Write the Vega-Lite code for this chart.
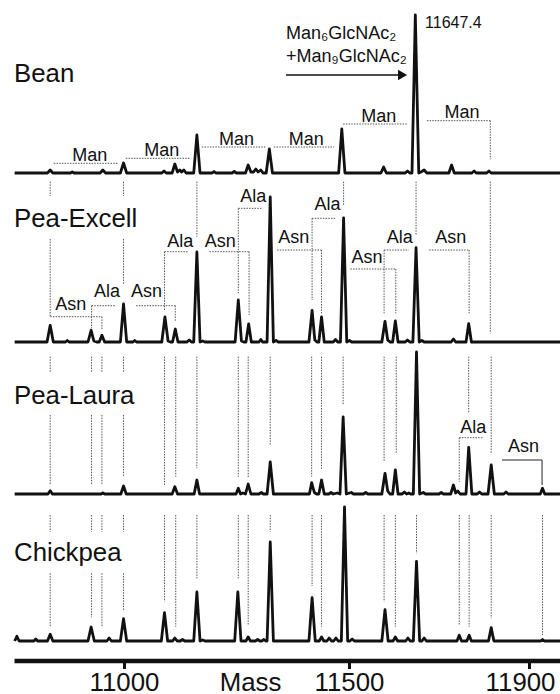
{
"$schema": "https://vega.github.io/schema/vega-lite/v6.json",
"padding": {"left": 13, "top": 0, "right": 0, "bottom": 0},
"bounds": "flush",
"spacing": 0,
"background": "white",
"config": {"view": {"stroke": null}, "font": "Liberation Sans", "text": {"font": "Liberation Sans", "color": "#111"}},
"resolve": {"scale": {"x": "independent", "y": "independent"}},
"datasets": {
"spec": [
{"s":"Bean","m":10757,"y":0},{"s":"Bean","m":10830,"y":0},{"s":"Bean","m":10836,"y":3},{"s":"Bean","m":10842,"y":0},{"s":"Bean","m":10881,"y":0},{"s":"Bean","m":10885,"y":1.2},{"s":"Bean","m":10889,"y":0},{"s":"Bean","m":10947,"y":0},{"s":"Bean","m":10953,"y":3},{"s":"Bean","m":10959,"y":0},{"s":"Bean","m":10992,"y":0},{"s":"Bean","m":10999,"y":10},{"s":"Bean","m":11006,"y":0},{"s":"Bean","m":11084,"y":0},{"s":"Bean","m":11089,"y":2},{"s":"Bean","m":11094,"y":0},{"s":"Bean","m":11107,"y":0},{"s":"Bean","m":11113,"y":9},{"s":"Bean","m":11119,"y":1},{"s":"Bean","m":11124,"y":3},{"s":"Bean","m":11128,"y":1},{"s":"Bean","m":11133,"y":3},{"s":"Bean","m":11138,"y":0},{"s":"Bean","m":11155,"y":0},{"s":"Bean","m":11162,"y":38},{"s":"Bean","m":11169,"y":0},{"s":"Bean","m":11196,"y":0},{"s":"Bean","m":11200,"y":1.5},{"s":"Bean","m":11204,"y":0},{"s":"Bean","m":11240,"y":0},{"s":"Bean","m":11245,"y":1.5},{"s":"Bean","m":11250,"y":0},{"s":"Bean","m":11270,"y":0},{"s":"Bean","m":11276,"y":8},{"s":"Bean","m":11282,"y":1},{"s":"Bean","m":11288,"y":1},{"s":"Bean","m":11293,"y":4},{"s":"Bean","m":11298,"y":1},{"s":"Bean","m":11304,"y":3},{"s":"Bean","m":11309,"y":0},{"s":"Bean","m":11316,"y":0},{"s":"Bean","m":11323,"y":24},{"s":"Bean","m":11330,"y":0},{"s":"Bean","m":11477,"y":0},{"s":"Bean","m":11484,"y":44},{"s":"Bean","m":11491,"y":0},{"s":"Bean","m":11571,"y":0},{"s":"Bean","m":11577,"y":6},{"s":"Bean","m":11583,"y":0},{"s":"Bean","m":11625,"y":0},{"s":"Bean","m":11630,"y":2},{"s":"Bean","m":11635,"y":0},{"s":"Bean","m":11640,"y":0},{"s":"Bean","m":11647.4,"y":158},{"s":"Bean","m":11655,"y":0},{"s":"Bean","m":11660,"y":1},{"s":"Bean","m":11667,"y":3},{"s":"Bean","m":11673,"y":0},{"s":"Bean","m":11722,"y":0},{"s":"Bean","m":11728,"y":8},{"s":"Bean","m":11734,"y":0},{"s":"Bean","m":11773,"y":0},{"s":"Bean","m":11778,"y":2},{"s":"Bean","m":11783,"y":0},{"s":"Bean","m":11806,"y":0},{"s":"Bean","m":11811,"y":2},{"s":"Bean","m":11816,"y":0},{"s":"Bean","m":11971,"y":0},
{"s":"Pea-Excell","m":10757,"y":0},{"s":"Pea-Excell","m":10829,"y":0},{"s":"Pea-Excell","m":10836,"y":16.7},{"s":"Pea-Excell","m":10843,"y":0},{"s":"Pea-Excell","m":10870,"y":0},{"s":"Pea-Excell","m":10874,"y":1.5},{"s":"Pea-Excell","m":10878,"y":0},{"s":"Pea-Excell","m":10920,"y":0},{"s":"Pea-Excell","m":10927,"y":11.7},{"s":"Pea-Excell","m":10933,"y":1},{"s":"Pea-Excell","m":10939,"y":0},{"s":"Pea-Excell","m":10945,"y":0},{"s":"Pea-Excell","m":10951,"y":6.7},{"s":"Pea-Excell","m":10957,"y":0},{"s":"Pea-Excell","m":10992,"y":0},{"s":"Pea-Excell","m":10999,"y":38},{"s":"Pea-Excell","m":11006,"y":0},{"s":"Pea-Excell","m":11020,"y":0},{"s":"Pea-Excell","m":11024,"y":1.5},{"s":"Pea-Excell","m":11028,"y":0},{"s":"Pea-Excell","m":11084,"y":0},{"s":"Pea-Excell","m":11091,"y":25},{"s":"Pea-Excell","m":11098,"y":1},{"s":"Pea-Excell","m":11103,"y":0},{"s":"Pea-Excell","m":11108,"y":0},{"s":"Pea-Excell","m":11114,"y":13},{"s":"Pea-Excell","m":11120,"y":0},{"s":"Pea-Excell","m":11140,"y":0},{"s":"Pea-Excell","m":11145,"y":2},{"s":"Pea-Excell","m":11150,"y":0},{"s":"Pea-Excell","m":11155,"y":0},{"s":"Pea-Excell","m":11162,"y":90},{"s":"Pea-Excell","m":11169,"y":0},{"s":"Pea-Excell","m":11175,"y":1},{"s":"Pea-Excell","m":11180,"y":0},{"s":"Pea-Excell","m":11247,"y":0},{"s":"Pea-Excell","m":11254,"y":42},{"s":"Pea-Excell","m":11261,"y":1},{"s":"Pea-Excell","m":11266,"y":0},{"s":"Pea-Excell","m":11271,"y":0},{"s":"Pea-Excell","m":11277,"y":18},{"s":"Pea-Excell","m":11283,"y":0},{"s":"Pea-Excell","m":11300,"y":0},{"s":"Pea-Excell","m":11304,"y":2.5},{"s":"Pea-Excell","m":11308,"y":0},{"s":"Pea-Excell","m":11318,"y":0},{"s":"Pea-Excell","m":11325,"y":145},{"s":"Pea-Excell","m":11332,"y":0},{"s":"Pea-Excell","m":11338,"y":1.5},{"s":"Pea-Excell","m":11343,"y":0},{"s":"Pea-Excell","m":11411,"y":0},{"s":"Pea-Excell","m":11418,"y":31.7},{"s":"Pea-Excell","m":11424,"y":2},{"s":"Pea-Excell","m":11429,"y":0},{"s":"Pea-Excell","m":11433,"y":0},{"s":"Pea-Excell","m":11439,"y":25},{"s":"Pea-Excell","m":11445,"y":0},{"s":"Pea-Excell","m":11465,"y":0},{"s":"Pea-Excell","m":11470,"y":2.5},{"s":"Pea-Excell","m":11475,"y":0},{"s":"Pea-Excell","m":11481,"y":0},{"s":"Pea-Excell","m":11488,"y":124},{"s":"Pea-Excell","m":11495,"y":0},{"s":"Pea-Excell","m":11501,"y":1.5},{"s":"Pea-Excell","m":11506,"y":0},{"s":"Pea-Excell","m":11573,"y":0},{"s":"Pea-Excell","m":11580,"y":20.7},{"s":"Pea-Excell","m":11586,"y":2},{"s":"Pea-Excell","m":11591,"y":0},{"s":"Pea-Excell","m":11597,"y":0},{"s":"Pea-Excell","m":11603,"y":21},{"s":"Pea-Excell","m":11609,"y":0},{"s":"Pea-Excell","m":11625,"y":0},{"s":"Pea-Excell","m":11630,"y":2},{"s":"Pea-Excell","m":11635,"y":0},{"s":"Pea-Excell","m":11642,"y":0},{"s":"Pea-Excell","m":11649,"y":94.4},{"s":"Pea-Excell","m":11656,"y":0},{"s":"Pea-Excell","m":11662,"y":1.5},{"s":"Pea-Excell","m":11667,"y":0},{"s":"Pea-Excell","m":11727,"y":0},{"s":"Pea-Excell","m":11732,"y":3},{"s":"Pea-Excell","m":11737,"y":0},{"s":"Pea-Excell","m":11760,"y":0},{"s":"Pea-Excell","m":11766,"y":18.4},{"s":"Pea-Excell","m":11772,"y":0},{"s":"Pea-Excell","m":11971,"y":0},
{"s":"Pea-Laura","m":10757,"y":0},{"s":"Pea-Laura","m":10831,"y":0},{"s":"Pea-Laura","m":10836,"y":3.3},{"s":"Pea-Laura","m":10841,"y":0},{"s":"Pea-Laura","m":10949,"y":0},{"s":"Pea-Laura","m":10953,"y":1.2},{"s":"Pea-Laura","m":10957,"y":0},{"s":"Pea-Laura","m":10993,"y":0},{"s":"Pea-Laura","m":10999,"y":8},{"s":"Pea-Laura","m":11005,"y":0},{"s":"Pea-Laura","m":11107,"y":0},{"s":"Pea-Laura","m":11113,"y":7.3},{"s":"Pea-Laura","m":11119,"y":0},{"s":"Pea-Laura","m":11156,"y":0},{"s":"Pea-Laura","m":11162,"y":14},{"s":"Pea-Laura","m":11168,"y":0},{"s":"Pea-Laura","m":11249,"y":0},{"s":"Pea-Laura","m":11254,"y":5.7},{"s":"Pea-Laura","m":11259,"y":0},{"s":"Pea-Laura","m":11264,"y":1},{"s":"Pea-Laura","m":11270,"y":0},{"s":"Pea-Laura","m":11276,"y":10},{"s":"Pea-Laura","m":11282,"y":0},{"s":"Pea-Laura","m":11300,"y":0},{"s":"Pea-Laura","m":11305,"y":1.5},{"s":"Pea-Laura","m":11310,"y":0},{"s":"Pea-Laura","m":11318,"y":0},{"s":"Pea-Laura","m":11325,"y":32},{"s":"Pea-Laura","m":11332,"y":0},{"s":"Pea-Laura","m":11412,"y":0},{"s":"Pea-Laura","m":11417,"y":11.3},{"s":"Pea-Laura","m":11423,"y":1.5},{"s":"Pea-Laura","m":11428,"y":0},{"s":"Pea-Laura","m":11433,"y":0},{"s":"Pea-Laura","m":11439,"y":14},{"s":"Pea-Laura","m":11445,"y":0},{"s":"Pea-Laura","m":11455,"y":0},{"s":"Pea-Laura","m":11460,"y":1.5},{"s":"Pea-Laura","m":11465,"y":0},{"s":"Pea-Laura","m":11474,"y":1},{"s":"Pea-Laura","m":11480,"y":0},{"s":"Pea-Laura","m":11487,"y":77},{"s":"Pea-Laura","m":11494,"y":0},{"s":"Pea-Laura","m":11505,"y":1.5},{"s":"Pea-Laura","m":11510,"y":0},{"s":"Pea-Laura","m":11532,"y":0},{"s":"Pea-Laura","m":11537,"y":1.5},{"s":"Pea-Laura","m":11542,"y":0},{"s":"Pea-Laura","m":11573,"y":0},{"s":"Pea-Laura","m":11580,"y":20.7},{"s":"Pea-Laura","m":11586,"y":3},{"s":"Pea-Laura","m":11591,"y":0},{"s":"Pea-Laura","m":11597,"y":0},{"s":"Pea-Laura","m":11603,"y":24},{"s":"Pea-Laura","m":11609,"y":0},{"s":"Pea-Laura","m":11618,"y":0},{"s":"Pea-Laura","m":11623,"y":2},{"s":"Pea-Laura","m":11628,"y":0},{"s":"Pea-Laura","m":11633,"y":1},{"s":"Pea-Laura","m":11637,"y":0},{"s":"Pea-Laura","m":11643,"y":0},{"s":"Pea-Laura","m":11650,"y":142},{"s":"Pea-Laura","m":11657,"y":0},{"s":"Pea-Laura","m":11665,"y":1.5},{"s":"Pea-Laura","m":11670,"y":0},{"s":"Pea-Laura","m":11700,"y":0},{"s":"Pea-Laura","m":11705,"y":1.5},{"s":"Pea-Laura","m":11710,"y":0},{"s":"Pea-Laura","m":11726,"y":0},{"s":"Pea-Laura","m":11732,"y":9},{"s":"Pea-Laura","m":11737,"y":1},{"s":"Pea-Laura","m":11742,"y":3},{"s":"Pea-Laura","m":11747,"y":0},{"s":"Pea-Laura","m":11760,"y":0},{"s":"Pea-Laura","m":11766,"y":46.7},{"s":"Pea-Laura","m":11773,"y":0},{"s":"Pea-Laura","m":11785,"y":0},{"s":"Pea-Laura","m":11790,"y":2},{"s":"Pea-Laura","m":11795,"y":0},{"s":"Pea-Laura","m":11809,"y":0},{"s":"Pea-Laura","m":11816,"y":29},{"s":"Pea-Laura","m":11823,"y":0},{"s":"Pea-Laura","m":11844,"y":0},{"s":"Pea-Laura","m":11849,"y":2},{"s":"Pea-Laura","m":11854,"y":0},{"s":"Pea-Laura","m":11925,"y":0},{"s":"Pea-Laura","m":11930,"y":5.7},{"s":"Pea-Laura","m":11935,"y":0},{"s":"Pea-Laura","m":11971,"y":0},
{"s":"Chickpea","m":10757,"y":0},{"s":"Chickpea","m":10762,"y":4.7},{"s":"Chickpea","m":10767,"y":0},{"s":"Chickpea","m":10800,"y":0},{"s":"Chickpea","m":10804,"y":2},{"s":"Chickpea","m":10808,"y":0},{"s":"Chickpea","m":10830,"y":0},{"s":"Chickpea","m":10836,"y":6.7},{"s":"Chickpea","m":10842,"y":0},{"s":"Chickpea","m":10920,"y":0},{"s":"Chickpea","m":10927,"y":14},{"s":"Chickpea","m":10934,"y":0},{"s":"Chickpea","m":10962,"y":0},{"s":"Chickpea","m":10967,"y":3},{"s":"Chickpea","m":10972,"y":0},{"s":"Chickpea","m":10992,"y":0},{"s":"Chickpea","m":10999,"y":22.4},{"s":"Chickpea","m":11006,"y":0},{"s":"Chickpea","m":11083,"y":0},{"s":"Chickpea","m":11090,"y":28.4},{"s":"Chickpea","m":11097,"y":0},{"s":"Chickpea","m":11108,"y":0},{"s":"Chickpea","m":11113,"y":3},{"s":"Chickpea","m":11118,"y":0},{"s":"Chickpea","m":11125,"y":0},{"s":"Chickpea","m":11130,"y":1.5},{"s":"Chickpea","m":11135,"y":0},{"s":"Chickpea","m":11155,"y":0},{"s":"Chickpea","m":11162,"y":49},{"s":"Chickpea","m":11169,"y":0},{"s":"Chickpea","m":11175,"y":1},{"s":"Chickpea","m":11180,"y":0},{"s":"Chickpea","m":11246,"y":0},{"s":"Chickpea","m":11253,"y":49},{"s":"Chickpea","m":11260,"y":0},{"s":"Chickpea","m":11271,"y":0},{"s":"Chickpea","m":11276,"y":4},{"s":"Chickpea","m":11281,"y":0},{"s":"Chickpea","m":11292,"y":0},{"s":"Chickpea","m":11297,"y":1.5},{"s":"Chickpea","m":11302,"y":0},{"s":"Chickpea","m":11306,"y":0},{"s":"Chickpea","m":11311,"y":1.5},{"s":"Chickpea","m":11315,"y":0},{"s":"Chickpea","m":11318,"y":0},{"s":"Chickpea","m":11325,"y":99},{"s":"Chickpea","m":11332,"y":0},{"s":"Chickpea","m":11411,"y":0},{"s":"Chickpea","m":11418,"y":43.4},{"s":"Chickpea","m":11425,"y":0},{"s":"Chickpea","m":11434,"y":0},{"s":"Chickpea","m":11439,"y":4},{"s":"Chickpea","m":11444,"y":0},{"s":"Chickpea","m":11451,"y":0},{"s":"Chickpea","m":11456,"y":3},{"s":"Chickpea","m":11461,"y":0},{"s":"Chickpea","m":11466,"y":0},{"s":"Chickpea","m":11471,"y":3},{"s":"Chickpea","m":11476,"y":0},{"s":"Chickpea","m":11483,"y":0},{"s":"Chickpea","m":11490,"y":134},{"s":"Chickpea","m":11497,"y":0},{"s":"Chickpea","m":11502,"y":0},{"s":"Chickpea","m":11507,"y":2},{"s":"Chickpea","m":11512,"y":0},{"s":"Chickpea","m":11573,"y":0},{"s":"Chickpea","m":11580,"y":31.4},{"s":"Chickpea","m":11587,"y":0},{"s":"Chickpea","m":11598,"y":0},{"s":"Chickpea","m":11603,"y":4},{"s":"Chickpea","m":11608,"y":0},{"s":"Chickpea","m":11626,"y":0},{"s":"Chickpea","m":11631,"y":3},{"s":"Chickpea","m":11636,"y":0},{"s":"Chickpea","m":11643,"y":0},{"s":"Chickpea","m":11650,"y":79.7},{"s":"Chickpea","m":11657,"y":0},{"s":"Chickpea","m":11662,"y":0},{"s":"Chickpea","m":11667,"y":3},{"s":"Chickpea","m":11672,"y":0},{"s":"Chickpea","m":11740,"y":0},{"s":"Chickpea","m":11745,"y":5.7},{"s":"Chickpea","m":11750,"y":0},{"s":"Chickpea","m":11762,"y":0},{"s":"Chickpea","m":11767,"y":5.7},{"s":"Chickpea","m":11772,"y":0},{"s":"Chickpea","m":11810,"y":0},{"s":"Chickpea","m":11816,"y":13.4},{"s":"Chickpea","m":11822,"y":0},{"s":"Chickpea","m":11926,"y":0},{"s":"Chickpea","m":11930,"y":1.5},{"s":"Chickpea","m":11934,"y":0},{"s":"Chickpea","m":11971,"y":0}
],
"vr": [
{"s":"Bean","m":11814,"y":52.3,"ye":13.7,"t":"dot"},
{"s":"Pea-Excell","m":10836,"y":160.3,"ye":146,"t":"dot"},{"s":"Pea-Excell","m":10836,"y":103,"ye":25.3,"t":"dot"},{"s":"Pea-Excell","m":10999,"y":160.3,"ye":146,"t":"dot"},{"s":"Pea-Excell","m":10999,"y":103,"ye":57,"t":"dot"},{"s":"Pea-Excell","m":11162,"y":160.3,"ye":105.3,"t":"dot"},{"s":"Pea-Excell","m":11488,"y":160.3,"ye":137,"t":"dot"},{"s":"Pea-Excell","m":11649,"y":160.3,"ye":107,"t":"dot"},{"s":"Pea-Excell","m":11814,"y":160.3,"ye":8.7,"t":"dot"},{"s":"Pea-Excell","m":10951,"y":25.3,"ye":12,"t":"dot"},{"s":"Pea-Excell","m":10928,"y":36.3,"ye":13.7,"t":"dot"},{"s":"Pea-Excell","m":11114,"y":36.3,"ye":20.3,"t":"dot"},{"s":"Pea-Excell","m":11090,"y":90.3,"ye":32,"t":"dot"},{"s":"Pea-Excell","m":11278,"y":90.3,"ye":27,"t":"dot"},{"s":"Pea-Excell","m":11254,"y":133.7,"ye":48.7,"t":"dot"},{"s":"Pea-Excell","m":11439,"y":92,"ye":28.7,"t":"dot"},{"s":"Pea-Excell","m":11418,"y":123.7,"ye":42,"t":"dot"},{"s":"Pea-Excell","m":11604,"y":73,"ye":28.7,"t":"dot"},{"s":"Pea-Excell","m":11578,"y":92,"ye":28.7,"t":"dot"},{"s":"Pea-Excell","m":11767,"y":92,"ye":28.7,"t":"dot"},
{"s":"Pea-Laura","m":10836,"y":137.3,"ye":121,"t":"dot"},{"s":"Pea-Laura","m":10836,"y":79,"ye":9,"t":"dot"},{"s":"Pea-Laura","m":10928,"y":137.3,"ye":121,"t":"dot"},{"s":"Pea-Laura","m":10928,"y":79,"ye":9,"t":"dot"},{"s":"Pea-Laura","m":10951,"y":137.3,"ye":121,"t":"dot"},{"s":"Pea-Laura","m":10951,"y":79,"ye":9,"t":"dot"},{"s":"Pea-Laura","m":10999,"y":137.3,"ye":121,"t":"dot"},{"s":"Pea-Laura","m":10999,"y":79,"ye":17.3,"t":"dot"},{"s":"Pea-Laura","m":11090,"y":137.3,"ye":9,"t":"dot"},{"s":"Pea-Laura","m":11115,"y":137.3,"ye":17.3,"t":"dot"},{"s":"Pea-Laura","m":11162,"y":137.3,"ye":25.7,"t":"dot"},{"s":"Pea-Laura","m":11254,"y":137.3,"ye":17.3,"t":"dot"},{"s":"Pea-Laura","m":11276,"y":137.3,"ye":16.3,"t":"dot"},{"s":"Pea-Laura","m":11325,"y":137.3,"ye":49,"t":"dot"},{"s":"Pea-Laura","m":11417,"y":137.3,"ye":17.3,"t":"dot"},{"s":"Pea-Laura","m":11439,"y":137.3,"ye":24.7,"t":"dot"},{"s":"Pea-Laura","m":11487,"y":137.3,"ye":89,"t":"dot"},{"s":"Pea-Laura","m":11578,"y":137.3,"ye":32.3,"t":"dot"},{"s":"Pea-Laura","m":11605,"y":137.3,"ye":40.7,"t":"dot"},{"s":"Pea-Laura","m":11766,"y":137.3,"ye":81.3,"t":"dot"},{"s":"Pea-Laura","m":11816,"y":137.3,"ye":40.7,"t":"dot"},{"s":"Pea-Laura","m":11745,"y":56.3,"ye":12.3,"t":"dot"},{"s":"Pea-Laura","m":11929,"y":34,"ye":9,"t":"solid"},
{"s":"Chickpea","m":10836,"y":126,"ye":109.3,"t":"dot"},{"s":"Chickpea","m":10836,"y":67.7,"ye":14.3,"t":"dot"},{"s":"Chickpea","m":10928,"y":126,"ye":109.3,"t":"dot"},{"s":"Chickpea","m":10928,"y":67.7,"ye":23.7,"t":"dot"},{"s":"Chickpea","m":10951,"y":126,"ye":109.3,"t":"dot"},{"s":"Chickpea","m":10951,"y":67.7,"ye":14.3,"t":"dot"},{"s":"Chickpea","m":10999,"y":126,"ye":109.3,"t":"dot"},{"s":"Chickpea","m":10999,"y":67.7,"ye":31,"t":"dot"},{"s":"Chickpea","m":11090,"y":126,"ye":39.3,"t":"dot"},{"s":"Chickpea","m":11115,"y":126,"ye":14.3,"t":"dot"},{"s":"Chickpea","m":11162,"y":126,"ye":62.7,"t":"dot"},{"s":"Chickpea","m":11254,"y":126,"ye":62.7,"t":"dot"},{"s":"Chickpea","m":11276,"y":126,"ye":16,"t":"dot"},{"s":"Chickpea","m":11325,"y":126,"ye":109.3,"t":"dot"},{"s":"Chickpea","m":11418,"y":126,"ye":55,"t":"dot"},{"s":"Chickpea","m":11439,"y":126,"ye":14.3,"t":"dot"},{"s":"Chickpea","m":11578,"y":126,"ye":39.3,"t":"dot"},{"s":"Chickpea","m":11603,"y":126,"ye":14.3,"t":"dot"},{"s":"Chickpea","m":11650,"y":126,"ye":87.7,"t":"dot"},{"s":"Chickpea","m":11745,"y":126,"ye":16,"t":"dot"},{"s":"Chickpea","m":11767,"y":126,"ye":14.3,"t":"dot"},{"s":"Chickpea","m":11816,"y":126,"ye":22.7,"t":"dot"},{"s":"Chickpea","m":11930,"y":126,"ye":6,"t":"dot"}
],
"hr": [
{"s":"Bean","m":10844,"m2":10987,"y":9.7,"t":"dot"},{"s":"Bean","m":11004,"m2":11147,"y":14.7,"t":"dot"},{"s":"Bean","m":11173,"m2":11314,"y":26,"t":"dot"},{"s":"Bean","m":11333,"m2":11467,"y":26,"t":"dot"},{"s":"Bean","m":11487,"m2":11630,"y":49,"t":"dot"},{"s":"Bean","m":11673,"m2":11814,"y":52.3,"t":"dot"},{"s":"Bean","m":11360,"m2":11612,"y":98,"t":"solid"},
{"s":"Pea-Excell","m":10836,"m2":10951,"y":25.3,"t":"dot"},{"s":"Pea-Excell","m":10928,"m2":10982,"y":36.3,"t":"dot"},{"s":"Pea-Excell","m":11027,"m2":11114,"y":36.3,"t":"dot"},{"s":"Pea-Excell","m":11090,"m2":11142,"y":90.3,"t":"dot"},{"s":"Pea-Excell","m":11190,"m2":11278,"y":90.3,"t":"dot"},{"s":"Pea-Excell","m":11254,"m2":11307,"y":133.7,"t":"dot"},{"s":"Pea-Excell","m":11340,"m2":11439,"y":92,"t":"dot"},{"s":"Pea-Excell","m":11418,"m2":11471,"y":123.7,"t":"dot"},{"s":"Pea-Excell","m":11503,"m2":11604,"y":73,"t":"dot"},{"s":"Pea-Excell","m":11578,"m2":11633,"y":92,"t":"dot"},{"s":"Pea-Excell","m":11678,"m2":11767,"y":92,"t":"dot"},
{"s":"Pea-Laura","m":11745,"m2":11799,"y":56.3,"t":"dot"},{"s":"Pea-Laura","m":11840,"m2":11929,"y":34,"t":"solid"}
],
"lab": [
{"s":"Bean","m":10755.6,"y":91.3,"text":"Bean","k":"sample"},
{"s":"Bean","m":10924,"y":12.3,"text":"Man","k":"br"},{"s":"Bean","m":11084,"y":17.3,"text":"Man","k":"br"},{"s":"Bean","m":11250,"y":28,"text":"Man","k":"br"},{"s":"Bean","m":11405,"y":28,"text":"Man","k":"br"},{"s":"Bean","m":11566,"y":51.3,"text":"Man","k":"br"},{"s":"Bean","m":11751,"y":54.7,"text":"Man","k":"br"},
{"s":"Bean","m":11669,"y":144.7,"text":"11647.4","k":"peak"},
{"s":"Bean","m":11360,"y":133.7,"text":"Man₆GlcNAc₂","k":"gly"},{"s":"Bean","m":11360,"y":111.3,"text":"+Man₉GlcNAc₂","k":"gly"},
{"s":"Bean","m":11619,"y":98,"text":"","k":"head"},
{"s":"Pea-Excell","m":10755.6,"y":115.3,"text":"Pea-Excell","k":"sample"},
{"s":"Pea-Excell","m":10882,"y":32,"text":"Asn","k":"br"},{"s":"Pea-Excell","m":10962,"y":45.3,"text":"Ala","k":"br"},{"s":"Pea-Excell","m":11050,"y":45.3,"text":"Asn","k":"br"},{"s":"Pea-Excell","m":11125,"y":95.3,"text":"Ala","k":"br"},{"s":"Pea-Excell","m":11214,"y":95.3,"text":"Asn","k":"br"},{"s":"Pea-Excell","m":11287,"y":140.3,"text":"Ala","k":"br"},{"s":"Pea-Excell","m":11377,"y":98.7,"text":"Asn","k":"br"},{"s":"Pea-Excell","m":11452,"y":132,"text":"Ala","k":"br"},{"s":"Pea-Excell","m":11540,"y":78.7,"text":"Asn","k":"br"},{"s":"Pea-Excell","m":11613,"y":98.7,"text":"Ala","k":"br"},{"s":"Pea-Excell","m":11726,"y":98.7,"text":"Asn","k":"br"},
{"s":"Pea-Laura","m":10755.6,"y":90,"text":"Pea-Laura","k":"sample"},
{"s":"Pea-Laura","m":11776,"y":60.7,"text":"Ala","k":"br"},{"s":"Pea-Laura","m":11888,"y":42.3,"text":"Asn","k":"br"},
{"s":"Chickpea","m":10755.6,"y":80.3,"text":"Chickpea","k":"sample"}
]
},
"vconcat": [
{
"width": 547, "height": 173,
"encoding": {
"x": {"field": "m", "type": "quantitative", "scale": {"domain": [10755.6, 11971.1], "nice": false, "zero": false}, "axis": null},
"y": {"field": "y", "type": "quantitative", "scale": {"domain": [0, 173], "nice": false, "zero": false}, "axis": null}
},
"layer": [
{"data": {"name": "vr"}, "transform": [{"filter": "datum.s === 'Bean' && datum.t === 'dot'"}], "mark": {"type": "rule", "color": "#555", "strokeWidth": 1, "strokeDash": [1.5, 1.2]}, "encoding": {"y2": {"field": "ye"}}},
{"data": {"name": "hr"}, "transform": [{"filter": "datum.s === 'Bean' && datum.t === 'dot'"}], "mark": {"type": "rule", "color": "#555", "strokeWidth": 1, "strokeDash": [1.5, 1.2]}, "encoding": {"x2": {"field": "m2"}}},
{"data": {"name": "hr"}, "transform": [{"filter": "datum.s === 'Bean' && datum.t === 'solid'"}], "mark": {"type": "rule", "color": "#111", "strokeWidth": 1.6}, "encoding": {"x2": {"field": "m2"}}},
{"data": {"name": "spec"}, "transform": [{"filter": "datum.s === 'Bean'"}], "mark": {"type": "line", "color": "#111", "strokeWidth": 2.8, "strokeJoin": "round"}},
{"data": {"name": "lab"}, "transform": [{"filter": "datum.s === 'Bean' && datum.k === 'sample'"}], "mark": {"type": "text", "align": "left", "baseline": "alphabetic", "fontSize": 25.8}, "encoding": {"text": {"field": "text"}}},
{"data": {"name": "lab"}, "transform": [{"filter": "datum.s === 'Bean' && datum.k === 'br'"}], "mark": {"type": "text", "align": "center", "baseline": "alphabetic", "fontSize": 18}, "encoding": {"text": {"field": "text"}}},
{"data": {"name": "lab"}, "transform": [{"filter": "datum.s === 'Bean' && datum.k === 'peak'"}], "mark": {"type": "text", "align": "left", "baseline": "alphabetic", "fontSize": 16}, "encoding": {"text": {"field": "text"}}},
{"data": {"name": "lab"}, "transform": [{"filter": "datum.s === 'Bean' && datum.k === 'gly'"}], "mark": {"type": "text", "align": "left", "baseline": "alphabetic", "fontSize": 18}, "encoding": {"text": {"field": "text"}}},
{"data": {"name": "lab"}, "transform": [{"filter": "datum.s === 'Bean' && datum.k === 'head'"}], "mark": {"type": "point", "shape": "triangle-right", "filled": true, "size": 110, "color": "#111", "opacity": 1}}
]
},
{
"width": 547, "height": 169,
"encoding": {
"x": {"field": "m", "type": "quantitative", "scale": {"domain": [10755.6, 11971.1], "nice": false, "zero": false}, "axis": null},
"y": {"field": "y", "type": "quantitative", "scale": {"domain": [0, 169], "nice": false, "zero": false}, "axis": null}
},
"layer": [
{"data": {"name": "vr"}, "transform": [{"filter": "datum.s === 'Pea-Excell' && datum.t === 'dot'"}], "mark": {"type": "rule", "color": "#555", "strokeWidth": 1, "strokeDash": [1.5, 1.2]}, "encoding": {"y2": {"field": "ye"}}},
{"data": {"name": "hr"}, "transform": [{"filter": "datum.s === 'Pea-Excell' && datum.t === 'dot'"}], "mark": {"type": "rule", "color": "#555", "strokeWidth": 1, "strokeDash": [1.5, 1.2]}, "encoding": {"x2": {"field": "m2"}}},
{"data": {"name": "spec"}, "transform": [{"filter": "datum.s === 'Pea-Excell'"}], "mark": {"type": "line", "color": "#111", "strokeWidth": 2.8, "strokeJoin": "round"}},
{"data": {"name": "lab"}, "transform": [{"filter": "datum.s === 'Pea-Excell' && datum.k === 'sample'"}], "mark": {"type": "text", "align": "left", "baseline": "alphabetic", "fontSize": 25.8}, "encoding": {"text": {"field": "text"}}},
{"data": {"name": "lab"}, "transform": [{"filter": "datum.s === 'Pea-Excell' && datum.k === 'br'"}], "mark": {"type": "text", "align": "center", "baseline": "alphabetic", "fontSize": 18}, "encoding": {"text": {"field": "text"}}}
]
},
{
"width": 547, "height": 152,
"encoding": {
"x": {"field": "m", "type": "quantitative", "scale": {"domain": [10755.6, 11971.1], "nice": false, "zero": false}, "axis": null},
"y": {"field": "y", "type": "quantitative", "scale": {"domain": [0, 152], "nice": false, "zero": false}, "axis": null}
},
"layer": [
{"data": {"name": "vr"}, "transform": [{"filter": "datum.s === 'Pea-Laura' && datum.t === 'dot'"}], "mark": {"type": "rule", "color": "#555", "strokeWidth": 1, "strokeDash": [1.5, 1.2]}, "encoding": {"y2": {"field": "ye"}}},
{"data": {"name": "vr"}, "transform": [{"filter": "datum.s === 'Pea-Laura' && datum.t === 'solid'"}], "mark": {"type": "rule", "color": "#222", "strokeWidth": 1}, "encoding": {"y2": {"field": "ye"}}},
{"data": {"name": "hr"}, "transform": [{"filter": "datum.s === 'Pea-Laura' && datum.t === 'dot'"}], "mark": {"type": "rule", "color": "#555", "strokeWidth": 1, "strokeDash": [1.5, 1.2]}, "encoding": {"x2": {"field": "m2"}}},
{"data": {"name": "hr"}, "transform": [{"filter": "datum.s === 'Pea-Laura' && datum.t === 'solid'"}], "mark": {"type": "rule", "color": "#222", "strokeWidth": 1}, "encoding": {"x2": {"field": "m2"}}},
{"data": {"name": "spec"}, "transform": [{"filter": "datum.s === 'Pea-Laura'"}], "mark": {"type": "line", "color": "#111", "strokeWidth": 2.8, "strokeJoin": "round"}},
{"data": {"name": "lab"}, "transform": [{"filter": "datum.s === 'Pea-Laura' && datum.k === 'sample'"}], "mark": {"type": "text", "align": "left", "baseline": "alphabetic", "fontSize": 25.8}, "encoding": {"text": {"field": "text"}}},
{"data": {"name": "lab"}, "transform": [{"filter": "datum.s === 'Pea-Laura' && datum.k === 'br'"}], "mark": {"type": "text", "align": "center", "baseline": "alphabetic", "fontSize": 18}, "encoding": {"text": {"field": "text"}}}
]
},
{
"width": 547, "height": 147,
"encoding": {
"x": {"field": "m", "type": "quantitative", "scale": {"domain": [10755.6, 11971.1], "nice": false, "zero": false},
 "axis": {"values": [11000, 11500, 11900], "format": "d", "offset": 19.5, "grid": false, "domainWidth": 4.3, "domainColor": "#111", "domainCap": "butt", "tickWidth": 3, "tickSize": 8, "tickColor": "#111", "labelFontSize": 25.8, "labelFont": "Liberation Sans", "labelColor": "#111", "labelPadding": 1.5, "labelFlush": false, "labelOverlap": false, "labelOffset": {"condition": {"test": "datum.value === 11900", "value": -9}, "value": 0}, "title": "Mass", "titleFont": "Liberation Sans", "titleFontSize": 25.8, "titleFontWeight": "normal", "titleColor": "#111", "titleX": 236, "titleY": 29.5, "titleBaseline": "alphabetic", "titleAlign": "center"}},
"y": {"field": "y", "type": "quantitative", "scale": {"domain": [0, 147], "nice": false, "zero": false}, "axis": null}
},
"layer": [
{"data": {"name": "vr"}, "transform": [{"filter": "datum.s === 'Chickpea' && datum.t === 'dot'"}], "mark": {"type": "rule", "color": "#555", "strokeWidth": 1, "strokeDash": [1.5, 1.2]}, "encoding": {"y2": {"field": "ye"}}},
{"data": {"name": "spec"}, "transform": [{"filter": "datum.s === 'Chickpea'"}], "mark": {"type": "line", "color": "#111", "strokeWidth": 2.8, "strokeJoin": "round"}},
{"data": {"name": "lab"}, "transform": [{"filter": "datum.s === 'Chickpea' && datum.k === 'sample'"}], "mark": {"type": "text", "align": "left", "baseline": "alphabetic", "fontSize": 25.8}, "encoding": {"text": {"field": "text"}}}
]
}
]
}
